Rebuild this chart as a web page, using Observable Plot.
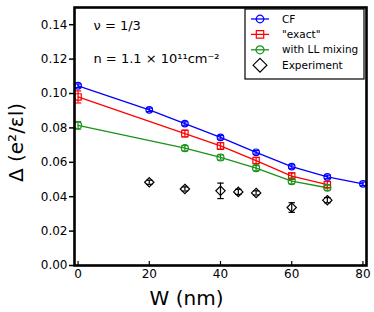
<!DOCTYPE html>
<html><head><meta charset="utf-8">
<script src="https://cdn.jsdelivr.net/npm/d3@7"></script>
<script src="https://cdn.jsdelivr.net/npm/@observablehq/plot@0.6"></script>
<style>
html,body{margin:0;padding:0;background:#fff;}
#chart svg{display:block;font-family:"DejaVu Sans",sans-serif;}
</style></head>
<body><div id="chart"></div>
<script>
const W_cf = [0, 20, 30, 40, 50, 60, 70, 80];
const cf = [0.1045, 0.0905, 0.0825, 0.0745, 0.0658, 0.0575, 0.0515, 0.0475];
const cfErr = [0.001, 0.001, 0.001, 0.001, 0.001, 0.001, 0.001, 0.001];
const W_exact = [0, 30, 40, 50, 60, 70];
const exact = [0.0980, 0.0767, 0.0695, 0.0610, 0.0520, 0.0470];
const exactErr = [0.0035, 0.002, 0.002, 0.0018, 0.0018, 0.0018];
const W_ll = [0, 30, 40, 50, 60, 70];
const ll = [0.0815, 0.0682, 0.0628, 0.0566, 0.0490, 0.0452];
const llErr = [0.0022, 0.0015, 0.0015, 0.0015, 0.0015, 0.0015];
const W_exp = [20, 30, 40, 45, 50, 60, 70];
const expv = [0.0484, 0.0445, 0.0434, 0.0428, 0.0422, 0.0337, 0.0380];
const expErr = [0.0012, 0.0012, 0.0045, 0.0015, 0.0012, 0.0028, 0.0015];
const yTicks = [0, 0.02, 0.04, 0.06, 0.08, 0.10, 0.12, 0.14];
const xTicks = [0, 20, 40, 60, 80];
const legendLabels = ["CF", "\"exact\"", "with LL mixing", "Experiment"];

const BLUE = "#0000ff", RED = "#ff0000", GREEN = "#1a931a", BLACK = "#000";
const mk = (ws, vs, es) => ws.map((w, i) => ({w, v: vs[i], e: es[i]}));
const sCF = mk(W_cf, cf, cfErr);
const sEX = mk(W_exact, exact, exactErr);
const sLL = mk(W_ll, ll, llErr);
const sXP = mk(W_exp, expv, expErr);

function errMarks(data, color) {
  return [
    Plot.ruleX(data, {x: "w", y1: d => d.v - d.e, y2: d => d.v + d.e, stroke: color, strokeWidth: 1.2}),
    Plot.link(data, {x1: d => d.w - 0.9, x2: d => d.w + 0.9, y1: d => d.v + d.e, y2: d => d.v + d.e, stroke: color, strokeWidth: 1.2}),
    Plot.link(data, {x1: d => d.w - 0.9, x2: d => d.w + 0.9, y1: d => d.v - d.e, y2: d => d.v - d.e, stroke: color, strokeWidth: 1.2})
  ];
}

const plot = Plot.plot({
  width: 374, height: 312,
  marginLeft: 74, marginRight: 8, marginTop: 7, marginBottom: 47,
  style: {fontFamily: "DejaVu Sans", fontSize: "12px", color: "#000", background: "#fff"},
  x: {domain: [-1, 81]},
  y: {domain: [0, 0.15]},
  marks: [
    Plot.line(sCF, {x: "w", y: "v", stroke: BLUE, strokeWidth: 1.3}),
    Plot.line(sEX, {x: "w", y: "v", stroke: RED, strokeWidth: 1.3}),
    Plot.line(sLL, {x: "w", y: "v", stroke: GREEN, strokeWidth: 1.3}),
    ...errMarks(sCF, BLUE),
    ...errMarks(sEX, RED),
    ...errMarks(sLL, GREEN),
    ...errMarks(sXP, BLACK),
    Plot.dot(sCF, {x: "w", y: "v", symbol: "circle", r: 3.3, stroke: BLUE, strokeWidth: 1.2, fill: "none"}),
    Plot.dot(sEX, {x: "w", y: "v", symbol: "square", r: 3.6, stroke: RED, strokeWidth: 1.2, fill: "none"}),
    Plot.dot(sLL, {x: "w", y: "v", symbol: "circle", r: 3.5, stroke: GREEN, strokeWidth: 1.2, fill: "none"}),
    Plot.dot(sXP, {x: "w", y: "v", symbol: "diamond2", r: 4.2, stroke: BLACK, strokeWidth: 1.2, fill: "none"}),
    Plot.axisY({ticks: yTicks, tickFormat: d3.format(".2f"), tickSize: 5, tickPadding: 2, strokeWidth: 1.5, label: null, fontSize: 12}),
    Plot.axisX({ticks: xTicks, tickSize: 0, tickPadding: 4, label: null, fontSize: 12}),
    Plot.axisX({ticks: xTicks, tickSize: -4, text: null, strokeWidth: 1.2, label: null}),
    Plot.frame({stroke: BLACK, strokeWidth: 2.6}),
    Plot.text(["ν = 1/3"], {frameAnchor: "top-left", dx: 19, dy: 18, textAnchor: "start", lineAnchor: "middle", fontSize: 13}),
    Plot.text(["n = 1.1 × 10¹¹cm⁻²"], {frameAnchor: "top-left", dx: 19, dy: 51, textAnchor: "start", lineAnchor: "middle", fontSize: 13}),
    Plot.text(["Δ (e²/εl)"], {frameAnchor: "left", rotate: -90, dx: -58, dy: 6, textAnchor: "middle", lineAnchor: "middle", fontSize: 20}),
    Plot.text(["W (nm)"], {frameAnchor: "bottom", dx: -34, dy: 33, textAnchor: "middle", lineAnchor: "middle", fontSize: 20})
  ]
});
document.getElementById("chart").appendChild(plot);

// Legend inside the frame (top-right)
const svg = d3.select(plot);
const lg = svg.append("g").attr("font-family", "DejaVu Sans").attr("font-size", 10.5).attr("text-anchor", "start");
lg.append("rect").attr("x", 245).attr("y", 9).attr("width", 119).attr("height", 70)
  .attr("fill", "#fff").attr("stroke", "#000").attr("stroke-width", 1.2);
const colors = [BLUE, RED, GREEN, BLACK];
const syms = [d3.symbolCircle, d3.symbolSquare, d3.symbolCircle, d3.symbolDiamond2];
const sizes = [Math.PI * 3.8 * 3.8, 7.4 * 7.4, Math.PI * 4.0 * 4.0, 11 * 11];
legendLabels.forEach((t, i) => {
  const y = 19 + i * 15.4;
  if (i < 3) lg.append("line").attr("x1", 251).attr("x2", 269).attr("y1", y).attr("y2", y)
    .attr("stroke", colors[i]).attr("stroke-width", 1.3);
  lg.append("path").attr("d", d3.symbol(syms[i], sizes[i])()).attr("transform", `translate(260,${y})`)
    .attr("fill", "none").attr("stroke", colors[i]).attr("stroke-width", 1.2);
  lg.append("text").attr("x", 282).attr("y", y).attr("dy", "0.35em").attr("text-anchor", "start").text(t);
});
</script></body></html>
